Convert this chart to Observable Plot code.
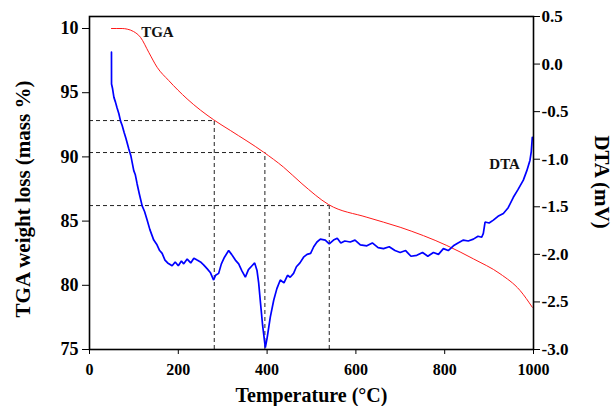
<!DOCTYPE html>
<html>
<head>
<meta charset="utf-8">
<script src="https://cdn.jsdelivr.net/npm/d3@7"></script>
<script src="https://cdn.jsdelivr.net/npm/@observablehq/plot@0.6"></script>
<style>
  html, body { margin: 0; padding: 0; background: #ffffff; }
  #chart { width: 614px; height: 406px; }
</style>
</head>
<body>
<div id="chart"></div>
<script>
// ---- Data ----
const xLabel = "Temperature (°C)";
const yLeftLabel = "TGA weight loss (mass %)";
const yRightLabel = "DTA (mV)";

const xTicks = [0, 200, 400, 600, 800, 1000];
const tgaTicks = [75, 80, 85, 90, 95, 100];
const tgaTickLabels = ["75", "80", "85", "90", "95", "10"];
const dtaTicks = [-3.0, -2.5, -2.0, -1.5, -1.0, -0.5, 0.0, 0.5];
const dtaTickLabels = ["-3.0", "-2.5", "-2.0", "-1.5", "-1.0", "-0.5", "0.0", "0.5"];

// TGA curve (temperature °C, mass %)
const tgaT    = [49.5, 73.6, 85, 99, 114.7, 133.4, 152.3, 178.4, 219.8, 279.6, 317.2, 392.1, 437.1, 478.5, 538.4, 624.7, 699.7, 804.7, 864.6, 924.6, 969.6, 997.3];
const tgaMass = [100.0, 100.0, 99.95, 99.77, 99.32, 98.15, 96.98, 95.95, 94.52, 92.89, 92.06, 90.37, 89.20, 87.91, 86.29, 85.30, 84.52, 83.10, 82.06, 80.90, 79.60, 78.29];

// DTA curve (temperature °C, mV)
const dtaT = [49.5, 49.6, 52, 55, 58.5, 62, 66, 70, 73.6, 78, 82, 88.4, 93, 99.7, 103, 107.3, 112, 118.6, 124, 129.8, 136, 144.7, 152, 158, 163.6, 170, 176, 186.1, 193, 200, 207, 212.2, 220, 228, 235, 242.3, 250, 257, 264.8, 272, 279.6, 284, 290.9, 297, 304, 313.4, 320, 328.5, 336, 343, 351, 358, 366, 372, 377.3, 381, 384.7, 390, 396, 400, 407.2, 415, 422, 429.7, 438, 446, 452, 459.6, 466, 474, 482.1, 490, 498, 505, 512.3, 520, 531, 540, 549.6, 558, 566, 575, 587.2, 598, 610, 624.7, 637, 650, 662.1, 675, 688, 699.7, 712, 724, 737.2, 750, 762, 774.6, 786, 797.1, 808, 819.6, 830, 842.1, 853, 864.6, 875, 883.4, 887, 890.9, 900, 909.6, 920, 932.1, 943, 954.6, 965, 977.1, 985, 992.1, 995, 997.3];
const dtaV = [0.125, -0.21, -0.26, -0.35, -0.40, -0.46, -0.52, -0.60, -0.646, -0.72, -0.78, -0.89, -0.96, -1.12, -1.16, -1.26, -1.36, -1.49, -1.55, -1.64, -1.74, -1.85, -1.90, -1.96, -1.99, -2.06, -2.09, -2.12, -2.08, -2.12, -2.07, -2.10, -2.05, -2.09, -2.04, -2.06, -2.08, -2.11, -2.15, -2.19, -2.27, -2.22, -2.20, -2.10, -2.03, -1.96, -2.00, -2.06, -2.10, -2.17, -2.24, -2.16, -2.12, -2.09, -2.17, -2.30, -2.49, -2.75, -2.98, -2.88, -2.66, -2.48, -2.36, -2.27, -2.30, -2.22, -2.24, -2.20, -2.13, -2.09, -2.03, -2.00, -1.99, -1.92, -1.87, -1.84, -1.85, -1.89, -1.85, -1.83, -1.88, -1.86, -1.87, -1.85, -1.90, -1.91, -1.88, -1.93, -1.94, -1.92, -1.96, -1.98, -1.96, -2.02, -2.01, -1.98, -2.02, -1.98, -2.00, -1.94, -1.96, -1.91, -1.88, -1.85, -1.86, -1.84, -1.81, -1.82, -1.78, -1.66, -1.67, -1.64, -1.60, -1.57, -1.51, -1.40, -1.32, -1.22, -1.12, -1.01, -0.92, -0.77];

// Dashed guide lines at the characteristic temperatures
const guideT = [281, 395, 540];
const guideMass = [92.83, 90.34, 86.21];

// Curve labels
const curveLabels = ["TGA", "DTA"];
const curveLabelT = [153, 935];
const curveLabelMass = [99.7, 89.4];

// ---- Build tables ----
const yDomain = [75, 100.935];
const dtaDomain = [-3.0, 0.5];
const dtaToMass = d3.scaleLinear().domain(dtaDomain).range(yDomain);

const tga = tgaT.map((t, i) => ({t, y: tgaMass[i]}));
const dta = dtaT.map((t, i) => ({t, y: dtaToMass(dtaV[i])}));
const guides = guideT.map((t, i) => ({t, y: guideMass[i]}));
const labels = curveLabels.map((s, i) => ({s, t: curveLabelT[i], y: curveLabelMass[i]}));
const rightTicks = dtaTicks.map(dtaToMass);

const font = "'Liberation Serif', 'Times New Roman', serif";

const chart = Plot.plot({
  width: 614,
  height: 406,
  marginLeft: 89,
  marginRight: 81,
  marginTop: 16,
  marginBottom: 57,
  style: {background: "#ffffff", fontFamily: font, fontSize: "16px", fontWeight: "bold", color: "#000", overflow: "visible"},
  x: {domain: [0, 1000]},
  y: {domain: yDomain},
  marks: [
    // dashed guides
    Plot.ruleY(guides, {y: "y", x1: 0, x2: "t", stroke: "#222", strokeWidth: 1, strokeDasharray: "4,3"}),
    Plot.ruleX(guides, {x: "t", y1: 75, y2: "y", stroke: "#222", strokeWidth: 1, strokeDasharray: "4,3"}),
    // curves
    Plot.line(tga, {x: "t", y: "y", stroke: "#ff1a1a", strokeWidth: 1, curve: "monotone-x"}),
    Plot.line(dta, {x: "t", y: "y", stroke: "#0000ff", strokeWidth: 1.7, strokeLinejoin: "miter"}),
    // curve labels
    Plot.text(labels, {x: "t", y: "y", text: "s", fontSize: 15, fontWeight: "bold", fill: "#111", fontFamily: font}),
    // axes
    Plot.axisX({ticks: xTicks, tickSize: 5, tickPadding: 9, tickFormat: d => String(d), label: null, fontSize: 16}),
    Plot.axisY({anchor: "left", ticks: tgaTicks, tickSize: 7, tickPadding: 4, label: null, fontSize: 18,
      tickFormat: d => tgaTickLabels[tgaTicks.findIndex(v => Math.abs(v - d) < 1e-6)]}),
    Plot.axisY({anchor: "right", ticks: rightTicks, tickSize: 6, tickPadding: 2, label: null, fontSize: 17,
      tickFormat: d => dtaTickLabels[rightTicks.findIndex(v => Math.abs(v - d) < 1e-6)]}),
    // axis titles
    Plot.text([xLabel], {frameAnchor: "bottom", dy: 46, text: d => d, fontSize: 20, fontWeight: "bold", fontFamily: font, fill: "#000", lineAnchor: "middle", textAnchor: "middle"}),
    Plot.text([yLeftLabel], {frameAnchor: "left", dx: -66, dy: 16, rotate: -90, text: d => d, fontSize: 21, fontWeight: "bold", fontFamily: font, fill: "#000", lineAnchor: "middle", textAnchor: "middle"}),
    Plot.text([yRightLabel], {frameAnchor: "right", dx: 68, dy: -1, rotate: 90, text: d => d, fontSize: 21, fontWeight: "bold", fontFamily: font, fill: "#000", lineAnchor: "middle", textAnchor: "middle"}),
    Plot.frame({stroke: "#000", strokeWidth: 1.6})
  ]
});
document.getElementById("chart").appendChild(chart);
</script>
</body>
</html>
